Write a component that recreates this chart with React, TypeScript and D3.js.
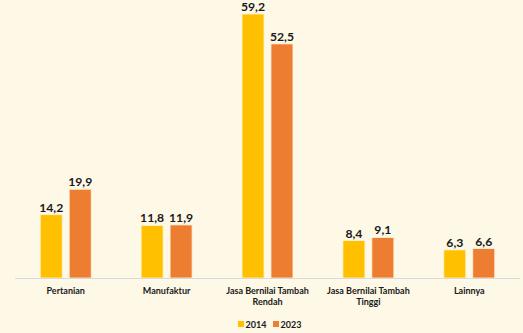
import React from "react";
import * as d3 from "d3";

const categories: string[][] = [
  ["Pertanian"],
  ["Manufaktur"],
  ["Jasa Bernilai Tambah", "Rendah"],
  ["Jasa Bernilai Tambah", "Tinggi"],
  ["Lainnya"],
];
const series = ["2014", "2023"];
const values2014 = [14.2, 11.8, 59.2, 8.4, 6.3];
const values2023 = [19.9, 11.9, 52.5, 9.1, 6.6];
const colors = ["#FFC000", "#ED7D31"];

const W = 523;
const H = 333;
const baseY = 278;
const left = 15;
const right = 520;

export default function App() {
  const x0 = d3
    .scaleBand<number>()
    .domain(categories.map((_, i) => i))
    .range([left, right])
    .paddingInner(0.495)
    .paddingOuter(0.25);
  const x1 = d3
    .scaleBand<string>()
    .domain(series)
    .range([0, x0.bandwidth()])
    .paddingInner(0.24);
  const y = d3.scaleLinear().domain([0, 59.2]).range([baseY, 14]);
  const data = [values2014, values2023];
  const fmt = (v: number) => v.toFixed(1).replace(".", ",");
  const font = "Lato, 'Open Sans', sans-serif";

  return (
    <svg
      width={W}
      height={H}
      style={{ position: "absolute", left: 0, top: 0, background: "#FEF8E6" }}
      fontFamily={font}
    >
      <rect x={0} y={0} width={W} height={H} fill="#FEF8E6" />
      {categories.map((cat, i) =>
        series.map((s, j) => {
          const v = data[j][i];
          const bx = (x0(i) ?? 0) + (x1(s) ?? 0);
          return (
            <g key={`${i}-${j}`}>
              <rect
                x={bx}
                y={y(v)}
                width={x1.bandwidth()}
                height={baseY - y(v)}
                fill={colors[j]}
                stroke="#FFF3D6"
                strokeWidth={0.8}
              />
              <text
                x={bx + x1.bandwidth() / 2}
                y={y(v) - 3}
                textAnchor="middle"
                fontSize={12.2}
                fontWeight={700}
                fill="#1a1a1a"
              >
                {fmt(v)}
              </text>
            </g>
          );
        })
      )}
      <line x1={left} x2={right} y1={baseY + 0.5} y2={baseY + 0.5} stroke="#D9D9D9" strokeWidth={1} />
      {categories.map((cat, i) => {
        const cx = (x0(i) ?? 0) + x0.bandwidth() / 2;
        return (
          <text key={i} x={cx} y={294} textAnchor="middle" fontSize={9} fontWeight={700} fill="#1a1a1a">
            {cat.map((line, k) => (
              <tspan key={k} x={cx} dy={k === 0 ? 0 : 11}>
                {line}
              </tspan>
            ))}
          </text>
        );
      })}
      {series.map((s, j) => {
        const lx = 238 + j * 35;
        return (
          <g key={s}>
            <rect x={lx} y={321} width={6} height={6} fill={colors[j]} />
            <text x={lx + 7.5} y={327.5} fontSize={9} fontWeight={700} fill="#1a1a1a">
              {s}
            </text>
          </g>
        );
      })}
    </svg>
  );
}
